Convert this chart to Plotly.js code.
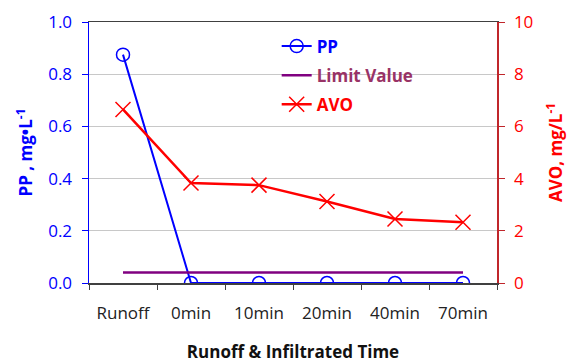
<!DOCTYPE html>
<html>
<head>
<meta charset="utf-8">
<script src="https://cdn.plot.ly/plotly-3.0.1.min.js"></script>
<style>html,body{margin:0;padding:0;background:#fff;}#chart{width:567px;height:363px;}</style>
</head>
<body>
<div id="chart"></div>
<script>
var categories = ["Runoff", "0min", "10min", "20min", "40min", "70min"];
var ppValues = [0.875, 0.0, 0.0, 0.0, 0.0, 0.0];
var limitValues = [0.04, 0.04, 0.04, 0.04, 0.04, 0.04];
var avoValues = [6.65, 3.83, 3.75, 3.12, 2.45, 2.33];
var leftTicks = [0, 0.2, 0.4, 0.6, 0.8, 1.0];
var rightTicks = [0, 2, 4, 6, 8, 10];

var FONT = "Open Sans, Lato, sans-serif";

var traces = [
  {
    x: categories, y: ppValues, yaxis: "y", type: "scatter", mode: "lines+markers",
    name: "<b><span style='color:#0000ff'>PP</span></b>",
    legendgroup: "a",
    line: {color: "#0000ff", width: 2},
    marker: {symbol: "circle-open", size: 13, color: "#0000ff", line: {width: 1.5, color: "#0000ff"}}
  },
  {
    x: categories, y: limitValues, yaxis: "y", type: "scatter", mode: "lines",
    name: "<b><span style='color:#993366'>Limit Value</span></b>",
    legendgroup: "b",
    line: {color: "#800080", width: 2.5}
  },
  {
    x: categories, y: avoValues, yaxis: "y2", type: "scatter", mode: "lines+markers",
    name: "<b><span style='color:#ff0000'>AVO</span></b>",
    legendgroup: "c",
    line: {color: "#ff0000", width: 2.5},
    marker: {symbol: "x-thin-open", size: 15, color: "#ff0000", line: {width: 1.5, color: "#ff0000"}}
  }
];

var layout = {
  width: 567, height: 363,
  margin: {l: 89, r: 70, t: 22, b: 80},
  paper_bgcolor: "#ffffff", plot_bgcolor: "#ffffff",
  font: {family: FONT, size: 17, color: "#222222"},
  showlegend: true,
  legend: {
    x: 0.46, y: 0.975, xanchor: "left", yanchor: "top",
    bgcolor: "rgba(0,0,0,0)", borderwidth: 0,
    font: {family: FONT, size: 17},
    traceorder: "grouped", tracegroupgap: 4
  },
  shapes: [{
    type: "rect", xref: "paper", yref: "paper", layer: "between",
    x0: 0.397, x1: 0.868, y0: 0.66, y1: 0.985,
    fillcolor: "#ffffff", line: {width: 0}
  }],
  xaxis: {
    type: "category", range: [-0.5, 5.5],
    tickson: "boundaries", ticks: "outside", ticklen: 5, tickcolor: "#404040",
    showline: true, linecolor: "#404040", linewidth: 1.5, mirror: true,
    showgrid: false, zeroline: false,
    tickfont: {family: FONT, size: 17, color: "#222222"},
    ticklabelstandoff: 14,
    title: {text: "<b>Runoff & Infiltrated Time</b>", font: {family: FONT, size: 17, color: "#111111"}, standoff: 26}
  },
  yaxis: {
    range: [0, 1], tickvals: leftTicks, tickformat: ".1f",
    ticks: "outside", ticklen: 6, tickcolor: "#0000ff",
    showline: true, linecolor: "#0000ff", linewidth: 1.5,
    showgrid: true, gridcolor: "#c8c8c8", gridwidth: 1, zeroline: false,
    tickfont: {family: FONT, size: 17, color: "#0000ff"},
    ticklabelstandoff: 6,
    title: {text: "<b>PP , mg•L<sup>-1</sup></b>", font: {family: FONT, size: 17, color: "#0000ff"}, standoff: 11}
  },
  yaxis2: {
    overlaying: "y", side: "right", range: [0, 10], tickvals: rightTicks,
    ticks: "outside", ticklen: 6, tickcolor: "#c0262b",
    showline: true, linecolor: "#c0262b", linewidth: 1.5,
    showgrid: false, zeroline: false,
    tickfont: {family: FONT, size: 17, color: "#ff0000"},
    ticklabelstandoff: 6,
    title: {text: "<b>AVO, mg/L<sup>-1</sup></b>", font: {family: FONT, size: 17, color: "#ff0000"}, standoff: 19}
  }
};

Plotly.newPlot("chart", traces, layout, {displayModeBar: false, staticPlot: true});
</script>
</body>
</html>
